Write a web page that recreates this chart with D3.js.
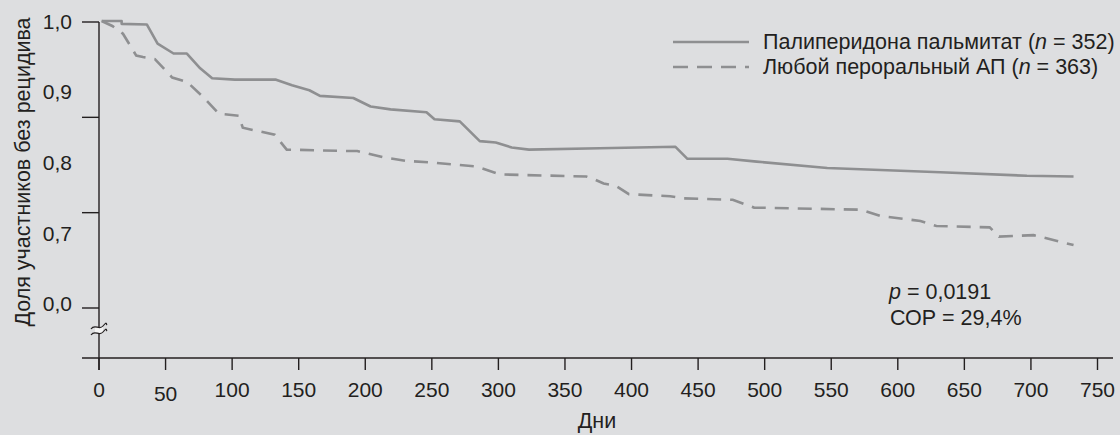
<!DOCTYPE html>
<html>
<head>
<meta charset="utf-8">
<script src="https://cdn.jsdelivr.net/npm/d3@7"></script>
<style>
  body { margin: 0; background: #dddee0; }
  svg { display: block; font-family: "Liberation Sans", Arial, sans-serif; }
  .lbl { font-size: 21.5px; fill: #231f20; }
  .tk { font-size: 21px; fill: #231f20; }
</style>
</head>
<body>
<svg id="km_svg" width="1120" height="435"></svg>
<script>
// Kaplan-Meier curves: [day, share without relapse]
var palDays = [2, 17, 17, 36, 44, 56, 66, 76, 85, 102, 133, 145, 158, 166, 191, 204, 219, 246, 252, 271, 286, 298, 310, 323, 376, 433, 442, 472, 494, 547, 632, 697, 732];
var palVals = [1.0, 1.0, 0.996, 0.995, 0.968, 0.954, 0.954, 0.933, 0.919, 0.917, 0.917, 0.909, 0.902, 0.894, 0.891, 0.879, 0.875, 0.871, 0.861, 0.858, 0.830, 0.828, 0.821, 0.818, 0.820, 0.822, 0.805, 0.805, 0.801, 0.792, 0.786, 0.781, 0.780];

var oralDays = [2, 10, 18, 28, 33, 42, 55, 66, 78, 90, 105, 108, 132, 141, 189, 194, 214, 231, 249, 284, 301, 321, 366, 372, 379, 388, 398, 429, 439, 476, 492, 572, 587, 617, 629, 669, 676, 702, 732];
var oralVals = [1.0, 0.993, 0.982, 0.951, 0.949, 0.946, 0.920, 0.914, 0.893, 0.869, 0.866, 0.849, 0.839, 0.818, 0.816, 0.816, 0.807, 0.802, 0.800, 0.794, 0.783, 0.782, 0.780, 0.776, 0.770, 0.767, 0.755, 0.752, 0.749, 0.747, 0.736, 0.733, 0.724, 0.717, 0.710, 0.708, 0.695, 0.697, 0.683];

var xTicks = [0, 50, 100, 150, 200, 250, 300, 350, 400, 450, 500, 550, 600, 650, 700, 750];
var yLabelVals = [1.0, 0.9, 0.8, 0.7, 0.6];
var yLabelText = ["1,0", "0,9", "0,8", "0,7", "0,0"];
var yMarks = [0, 1, 2, 3];

var legendNames = ["Палиперидона пальмитат", "Любой пероральный АП"];
var legendN = [352, 363];

var svg = d3.select("#km_svg");
var ink = "#231f20", curveCol = "#8e8f91";

var x = d3.scaleLinear().domain([0, 750]).range([99, 1097.5]);
var y = d3.scaleLinear().domain([0.6, 1.0]).range([303.7, 21]);
var yMark = d3.scaleLinear().domain([0, 3]).range([22, 308]);

// x axis
var xAxis = svg.append("g").attr("transform", "translate(0,358)");
xAxis.append("line").attr("x1", 82).attr("x2", 1113)
    .attr("stroke", ink).attr("stroke-width", 1.4);
xAxis.selectAll(".xt").data(xTicks).enter().append("line")
    .attr("x1", d => x(d)).attr("x2", d => x(d))
    .attr("y1", 0).attr("y2", 12)
    .attr("stroke", ink).attr("stroke-width", 1.4);
xAxis.selectAll(".xl").data(xTicks).enter().append("text")
    .attr("class", "tk")
    .attr("x", d => x(d))
    .attr("y", d => d == 50 ? 43 : 38.5)
    .attr("text-anchor", "middle")
    .text(d => d);

// y axis
svg.append("line").attr("x1", 99).attr("x2", 99)
    .attr("y1", 22).attr("y2", 370)
    .attr("stroke", ink).attr("stroke-width", 1.4);
svg.selectAll(".ym").data(yMarks).enter().append("line")
    .attr("x1", 82).attr("x2", 99)
    .attr("y1", d => yMark(d)).attr("y2", d => yMark(d))
    .attr("stroke", ink).attr("stroke-width", 1.4);
svg.selectAll(".yl").data(yLabelVals).enter().append("text")
    .attr("class", "tk")
    .attr("x", 72).attr("y", d => y(d) + 7.5)
    .attr("text-anchor", "end")
    .text((d, i) => yLabelText[i]);

// axis break
var brk = svg.append("g").attr("transform", "translate(99,330)");
brk.append("rect").attr("x", -4).attr("y", -3).attr("width", 8).attr("height", 6)
    .attr("fill", "#f4f4f4");
[-3, 3].forEach(function (dy) {
    brk.append("path")
        .attr("d", "M-8," + (dy + 2) + " C-4," + (dy - 4) + " 0," + (dy + 4) + " 4," + (dy - 1) + " S7," + (dy - 3) + " 8," + (dy - 2))
        .attr("fill", "none").attr("stroke", ink).attr("stroke-width", 1.2);
});

// axis titles
svg.append("text").attr("class", "lbl")
    .attr("transform", "translate(30,172) rotate(-90)")
    .attr("text-anchor", "middle")
    .text("Доля участников без рецидива");
svg.append("text").attr("class", "lbl")
    .attr("x", 597).attr("y", 428)
    .attr("text-anchor", "middle")
    .text("Дни");

// curves
var line = d3.line().x(d => x(d[0])).y(d => y(d[1]));
var palData = palDays.map((d, i) => [d, palVals[i]]);
var oralData = oralDays.map((d, i) => [d, oralVals[i]]);

svg.append("path").datum(palData)
    .attr("d", line)
    .attr("fill", "none").attr("stroke", curveCol).attr("stroke-width", 2.6)
    .attr("stroke-linejoin", "round");
svg.append("path").datum(oralData)
    .attr("d", line)
    .attr("fill", "none").attr("stroke", curveCol).attr("stroke-width", 2.6)
    .attr("stroke-dasharray", "14,9");

// legend
var legend = svg.append("g").attr("transform", "translate(673,42)");
legendNames.forEach(function (name, i) {
    var row = legend.append("g").attr("transform", "translate(0," + (i * 25) + ")");
    row.append("line").attr("x1", 0).attr("x2", 76).attr("y1", 0).attr("y2", 0)
        .attr("stroke", curveCol).attr("stroke-width", 2.6)
        .attr("stroke-dasharray", i == 0 ? null : "15,9");
    var t = row.append("text").attr("class", "lbl").attr("x", 90).attr("y", 7);
    t.append("tspan").text(name + " (");
    t.append("tspan").attr("font-style", "italic").text("n");
    t.append("tspan").text(" = " + legendN[i] + ")");
});

// statistics
var st = svg.append("g").attr("transform", "translate(889,299)");
var p = st.append("text").attr("class", "lbl");
p.append("tspan").attr("font-style", "italic").text("p");
p.append("tspan").text(" = 0,0191");
st.append("text").attr("class", "lbl").attr("x", 1).attr("y", 26).text("СОР = 29,4%");
</script>
</body>
</html>
